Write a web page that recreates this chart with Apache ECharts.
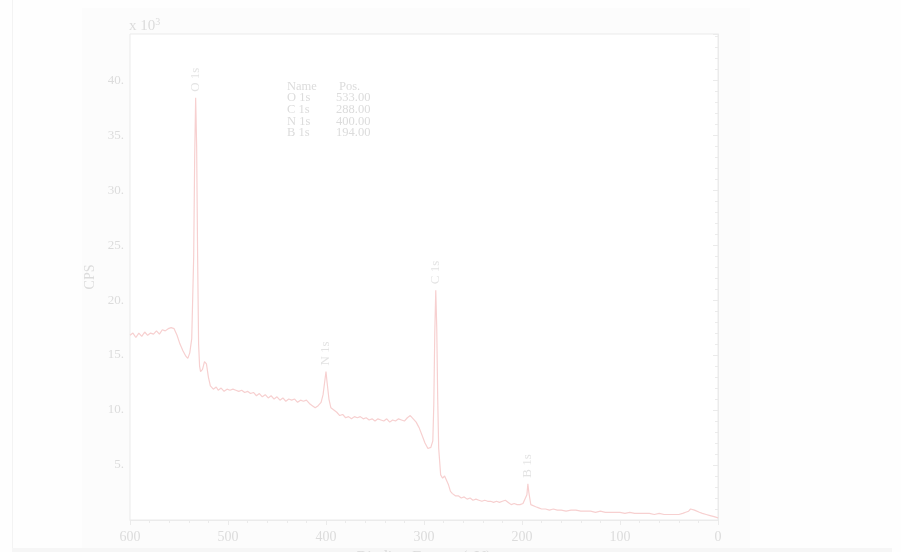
<!DOCTYPE html>
<html>
<head>
<meta charset="utf-8">
<script src="https://cdn.jsdelivr.net/npm/echarts@6/dist/echarts.min.js"></script>
<style>
  html, body { margin: 0; padding: 0; background: #fefefe; }
  #chart { width: 901px; height: 552px; }
</style>
</head>
<body>
<div id="chart"></div>
<script>
// XPS survey spectrum: binding energy (eV) vs counts per second (x10^3)
const energy = [
  600, 597, 594, 591, 588, 585, 582, 579, 576, 573, 570, 567, 564, 561, 558, 555,
  552, 549, 546, 543, 541, 539, 537, 535, 534, 533, 532, 531, 530, 529, 528, 526,
  524, 522, 520, 518, 515, 512, 510, 507, 504, 501, 498, 495, 492, 489, 486, 483,
  480, 477, 474, 471, 468, 465, 462, 459, 456, 453, 450, 447, 444, 441, 438, 435,
  432, 429, 426, 423, 420, 417, 414, 411, 408, 405, 403, 401, 400, 399, 397, 395,
  392, 389, 386, 383, 380, 377, 374, 371, 368, 365, 362, 359, 356, 353, 350, 347,
  344, 341, 338, 335, 332, 329, 326, 323, 320, 317, 314, 311, 308, 305, 302, 299,
  296, 293, 291, 290, 289, 288, 287, 286, 285, 283, 281, 279, 277, 275, 273, 271,
  268, 265, 262, 259, 256, 253, 250, 247, 244, 241, 238, 235, 232, 229, 226, 223,
  220, 217, 214, 211, 208, 205, 202, 199, 197, 195, 194, 193, 191, 189, 186, 183,
  180, 176, 172, 168, 164, 160, 155, 150, 145, 140, 135, 130, 125, 120, 115, 110,
  105, 100, 95, 90, 85, 80, 75, 70, 65, 60, 55, 50, 45, 40, 36, 33, 30, 28, 26,
  24, 22, 19, 16, 12, 8, 4, 0
];
const cps = [
  16.8, 17.0, 16.6, 17.0, 16.7, 17.1, 16.8, 17.0, 16.9, 17.2, 16.9, 17.3, 17.2, 17.4, 17.5, 17.4,
  16.8, 16.0, 15.4, 14.9, 14.7, 15.2, 16.5, 24.0, 33.0, 38.4, 34.0, 24.0, 16.0, 14.0, 13.5, 13.7,
  14.4, 14.2, 13.0, 12.2, 11.9, 12.1, 11.8, 12.0, 11.7, 11.9, 11.8, 11.9, 11.8, 11.7, 11.8, 11.6,
  11.7, 11.5, 11.6, 11.3, 11.5, 11.2, 11.4, 11.1, 11.3, 11.0, 11.2, 10.9, 11.1, 10.8, 11.0, 10.9,
  11.0, 10.7, 10.9, 10.8, 10.9, 10.6, 10.4, 10.2, 10.4, 10.7, 11.4, 12.8, 13.5, 12.6, 11.0, 10.2,
  10.0, 9.8, 9.5, 9.6, 9.3, 9.4, 9.2, 9.4, 9.3, 9.4, 9.2, 9.3, 9.1, 9.2, 9.0, 9.2,
  9.1, 9.0, 9.2, 8.9, 9.1, 9.0, 9.2, 9.1, 9.0, 9.3, 9.5, 9.2, 8.9, 8.4, 7.7, 7.0,
  6.5, 6.6, 7.2, 10.5, 17.0, 20.9, 17.5, 11.0, 6.5, 4.1, 3.8, 4.0, 3.9, 3.2, 2.6, 2.4,
  2.2, 2.2, 2.0, 2.1, 1.9, 2.0, 1.8, 1.9, 1.8, 1.7, 1.8, 1.7, 1.7, 1.6, 1.7, 1.6,
  1.7, 1.8, 1.6, 1.4, 1.5, 1.4, 1.4, 1.5, 1.6, 2.3, 3.3, 2.5, 1.4, 1.3, 1.2, 1.1,
  1.0, 1.0, 0.9, 1.0, 0.9, 0.9, 0.8, 0.9, 0.9, 0.8, 0.8, 0.8, 0.7, 0.8, 0.7, 0.7,
  0.7, 0.7, 0.6, 0.7, 0.6, 0.6, 0.6, 0.6, 0.5, 0.6, 0.5, 0.5, 0.5, 0.5, 0.6, 0.7, 0.8, 1.0, 1.1,
  0.9, 0.8, 0.7, 0.6, 0.5, 0.4, 0.3, 0.2
];

// Identified peaks
const peakNames = ['O 1s', 'C 1s', 'N 1s', 'B 1s'];
const peakPos = [533.0, 288.0, 400.0, 194.0];
const peakTop = [38.4, 20.9, 13.5, 3.3];
const peakPosText = ['533.00', '288.00', '400.00', '194.00'];

const xTicks = [0, 100, 200, 300, 400, 500, 600];
const yMax = 44.2;

const textColor = '#dcdcdc';
const axisColor = '#ebebeb';
const lineColor = '#f7d0d0';
const serif = '"Liberation Serif", "DejaVu Serif", serif';

const spectrum = energy.map((e, i) => [e, cps[i]]);
const peaks = peakPos.map((p, i) => ({ value: [p, peakTop[i]], name: peakNames[i] }));

const tableGraphics = [];
const rowY = 80;
const rowH = 11.6;
const tableFont = '12.5px ' + serif;
tableGraphics.push({ type: 'text', left: 287, top: rowY, style: { text: 'Name', font: tableFont, fill: textColor } });
tableGraphics.push({ type: 'text', left: 339, top: rowY, style: { text: 'Pos.', font: tableFont, fill: textColor } });
peakNames.forEach((n, i) => {
  tableGraphics.push({ type: 'text', left: 287, top: rowY + rowH * (i + 1), style: { text: n, font: tableFont, fill: textColor } });
  tableGraphics.push({ type: 'text', left: 336, top: rowY + rowH * (i + 1), style: { text: peakPosText[i], font: tableFont, fill: textColor } });
});

const chart = echarts.init(document.getElementById('chart'), null, { renderer: 'canvas' });
chart.setOption({
  backgroundColor: '#fefefe',
  animation: false,
  graphic: [
    { type: 'rect', z: -10, shape: { x: 82, y: 8, width: 668, height: 540 }, style: { fill: '#fcfcfc' } },
    { type: 'rect', z: -10, shape: { x: 12, y: 0, width: 1, height: 552 }, style: { fill: '#f3f3f3' } },
    { type: 'rect', z: -10, shape: { x: 12, y: 548, width: 880, height: 4 }, style: { fill: '#f6f6f6' } },
    {
      type: 'text', left: 129, top: 17,
      style: {
        text: '{b|x 10}{s|3}',
        rich: {
          b: { font: '15px ' + serif, fill: textColor, color: textColor },
          s: { font: '10px ' + serif, fill: textColor, color: textColor, verticalAlign: 'top', padding: [0, 0, 9, 0] }
        }
      }
    },
    ...tableGraphics
  ],
  grid: {
    left: 130, right: 183, top: 34, bottom: 32,
    outerBoundsMode: 'none',
    containLabel: false,
    show: true, borderColor: axisColor, borderWidth: 1, backgroundColor: '#ffffff'
  },
  xAxis: {
    type: 'value',
    inverse: true,
    min: 0, max: 600, interval: 100,
    name: 'Binding Energy (eV)',
    nameLocation: 'middle',
    nameGap: 30,
    nameTextStyle: { color: textColor, fontFamily: serif, fontSize: 16 },
    axisLine: { show: true, lineStyle: { color: axisColor } },
    axisTick: { show: true, inside: false, length: 5, lineStyle: { color: axisColor } },
    minorTick: { show: true, splitNumber: 5, length: 3, lineStyle: { color: axisColor } },
    axisLabel: {
      color: textColor, fontFamily: serif, fontSize: 14, margin: 10,
      formatter: v => (xTicks.includes(v) ? String(v) : '')
    },
    splitLine: { show: false }
  },
  yAxis: {
    type: 'value',
    min: 0, max: yMax, interval: 5,
    name: 'CPS',
    nameLocation: 'middle',
    nameGap: 32,
    nameRotate: 90,
    nameTextStyle: { color: textColor, fontFamily: serif, fontSize: 14 },
    axisLine: { show: true, lineStyle: { color: axisColor } },
    axisTick: { show: true, length: 5, lineStyle: { color: axisColor } },
    minorTick: { show: true, splitNumber: 5, length: 3, lineStyle: { color: axisColor } },
    axisLabel: {
      color: textColor, fontFamily: serif, fontSize: 13, margin: 6,
      showMinLabel: false, showMaxLabel: false,
      formatter: v => (v > 0 && v % 5 === 0 ? v + '.' : '')
    },
    splitLine: { show: false }
  },
  series: [
    {
      type: 'line',
      data: spectrum,
      symbol: 'none',
      smooth: false,
      lineStyle: { color: lineColor, width: 1.2 },
      z: 3
    },
    {
      type: 'scatter',
      data: peaks,
      symbolSize: 0,
      silent: true,
      label: {
        show: true,
        position: 'top',
        distance: 6,
        rotate: 90,
        align: 'left',
        verticalAlign: 'middle',
        formatter: p => p.name,
        color: textColor,
        fontFamily: serif,
        fontSize: 13
      },
      z: 4
    }
  ]
});
</script>
</body>
</html>
